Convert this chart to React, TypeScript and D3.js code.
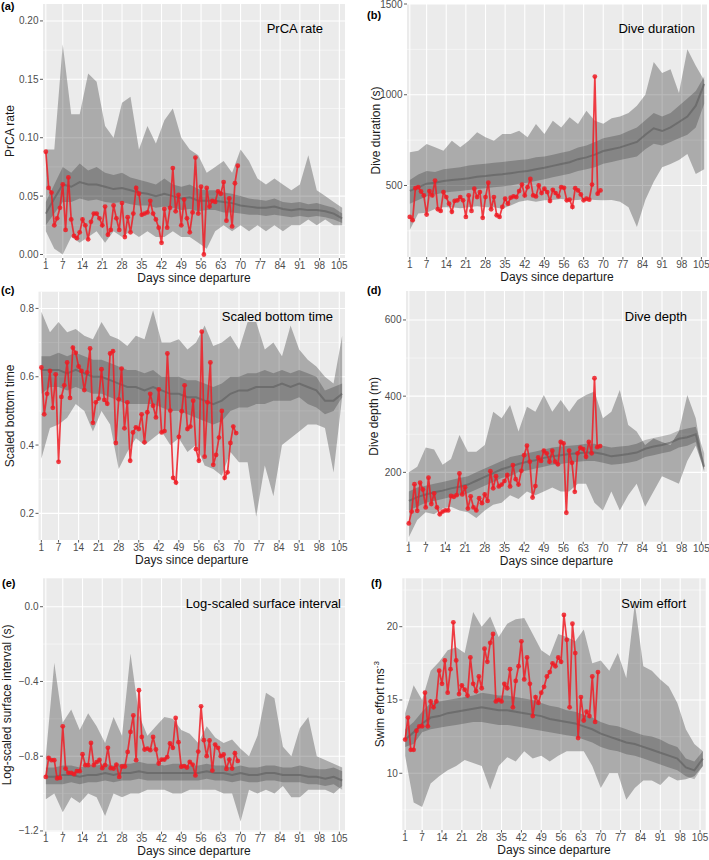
import React from 'react';
import * as d3 from 'd3';

// x axis shared by all panels
const xTicks = [1, 7, 14, 21, 28, 35, 42, 49, 56, 63, 70, 77, 84, 91, 98, 105];
const redDays = d3.range(1, 70);
// band values are read every 3 days
const bandDays = [1, 4, 7, 10, 13, 16, 19, 22, 25, 28, 31, 34, 37, 40, 43, 46, 49, 52, 55, 58, 61, 64, 67, 70, 73, 76, 79, 82, 85, 88, 91, 94, 97, 100, 103, 106];

// (a) PrCA rate
const redA = [0.088, 0.057, 0.053, 0.025, 0.031, 0.040, 0.060, 0.021, 0.066, 0.030, 0.016, 0.014, 0.019, 0.030, 0.025, 0.013, 0.028, 0.035, 0.035, 0.031, 0.025, 0.041, 0.017, 0.021, 0.042, 0.031, 0.021, 0.044, 0.015, 0.032, 0.019, 0.035, 0.057, 0.052, 0.034, 0.035, 0.036, 0.046, 0.035, 0.030, 0.023, 0.010, 0.039, 0.023, 0.040, 0.074, 0.037, 0.051, 0.025, 0.047, 0.031, 0.019, 0.036, 0.083, 0.035, 0.058, 0.000, 0.057, 0.041, 0.046, 0.045, 0.054, 0.052, 0.062, 0.029, 0.048, 0.024, 0.061, 0.076];
const outerHiA = [0.09, 0.09, 0.18, 0.12, 0.12, 0.155, 0.148, 0.11, 0.10, 0.13, 0.135, 0.09, 0.11, 0.095, 0.115, 0.125, 0.10, 0.09, 0.085, 0.07, 0.075, 0.08, 0.07, 0.09, 0.08, 0.065, 0.06, 0.065, 0.06, 0.055, 0.06, 0.085, 0.055, 0.05, 0.045, 0.04];
const outerLoA = [0.02, 0.005, 0.0, 0.015, 0.01, 0.015, 0.02, 0.01, 0.02, 0.015, 0.02, 0.015, 0.02, 0.015, 0.015, 0.02, 0.015, 0.015, 0.01, 0.005, 0.02, 0.025, 0.02, 0.025, 0.02, 0.025, 0.02, 0.025, 0.02, 0.025, 0.025, 0.03, 0.025, 0.03, 0.025, 0.025];
const innerHiA = [0.045, 0.06, 0.075, 0.07, 0.078, 0.072, 0.075, 0.07, 0.068, 0.07, 0.066, 0.064, 0.062, 0.06, 0.065, 0.06, 0.058, 0.06, 0.056, 0.055, 0.055, 0.053, 0.052, 0.05, 0.048, 0.047, 0.046, 0.048, 0.045, 0.044, 0.045, 0.043, 0.044, 0.042, 0.04, 0.035];
const innerLoA = [0.025, 0.035, 0.045, 0.045, 0.048, 0.046, 0.047, 0.045, 0.044, 0.045, 0.043, 0.042, 0.042, 0.04, 0.041, 0.04, 0.038, 0.039, 0.037, 0.038, 0.038, 0.036, 0.036, 0.035, 0.034, 0.034, 0.033, 0.034, 0.033, 0.032, 0.033, 0.032, 0.033, 0.032, 0.03, 0.027];
const medA = [0.035, 0.048, 0.06, 0.058, 0.062, 0.06, 0.06, 0.058, 0.056, 0.057, 0.055, 0.053, 0.052, 0.05, 0.052, 0.05, 0.048, 0.049, 0.046, 0.046, 0.046, 0.045, 0.044, 0.042, 0.041, 0.04, 0.04, 0.041, 0.039, 0.038, 0.039, 0.038, 0.038, 0.037, 0.035, 0.031];
const yTicksA = [0, 0.05, 0.1, 0.15, 0.2];

// (b) Dive duration
const redB = [327, 309, 485, 491, 467, 445, 340, 469, 445, 527, 369, 360, 464, 436, 400, 355, 415, 418, 436, 418, 327, 445, 360, 482, 436, 464, 322, 436, 515, 369, 436, 336, 327, 382, 427, 400, 433, 440, 436, 469, 505, 445, 491, 536, 445, 440, 500, 458, 482, 464, 415, 476, 458, 440, 491, 487, 418, 422, 382, 485, 473, 451, 418, 427, 422, 505, 1100, 455, 473];
const outerHiB = [683, 692, 729, 711, 692, 747, 711, 747, 793, 766, 747, 784, 784, 802, 766, 839, 784, 857, 820, 876, 839, 912, 857, 840, 870, 880, 900, 940, 1000, 1180, 1120, 1140, 1010, 1250, 1160, 1080];
const outerLoB = [255, 345, 350, 370, 380, 380, 375, 380, 385, 380, 380, 372, 390, 410, 418, 410, 418, 420, 425, 418, 420, 425, 420, 418, 420, 410, 380, 271, 420, 520, 600, 619, 640, 674, 564, 590];
const innerHiB = [530, 560, 580, 575, 590, 595, 600, 610, 615, 620, 625, 630, 635, 640, 645, 655, 660, 670, 680, 690, 710, 720, 740, 760, 770, 780, 800, 820, 860, 900, 880, 900, 940, 980, 1020, 1100];
const innerLoB = [400, 420, 440, 450, 460, 465, 470, 475, 480, 485, 490, 495, 500, 510, 515, 525, 535, 545, 555, 565, 580, 590, 600, 620, 630, 640, 650, 660, 700, 730, 720, 740, 760, 780, 820, 950];
const medB = [470, 490, 510, 515, 525, 530, 535, 540, 548, 552, 558, 562, 568, 575, 580, 590, 598, 608, 618, 628, 645, 655, 670, 690, 700, 710, 725, 740, 780, 815, 800, 820, 850, 880, 940, 1060];
const yTicksB = [500, 1000, 1500];

// (c) Scaled bottom time
const redC = [0.627, 0.49, 0.55, 0.617, 0.509, 0.607, 0.351, 0.541, 0.575, 0.642, 0.538, 0.685, 0.670, 0.630, 0.617, 0.561, 0.613, 0.683, 0.465, 0.525, 0.536, 0.622, 0.532, 0.521, 0.668, 0.675, 0.406, 0.534, 0.624, 0.449, 0.525, 0.354, 0.437, 0.452, 0.447, 0.49, 0.408, 0.496, 0.55, 0.515, 0.481, 0.563, 0.437, 0.441, 0.668, 0.501, 0.304, 0.29, 0.424, 0.499, 0.575, 0.447, 0.454, 0.530, 0.388, 0.354, 0.732, 0.366, 0.525, 0.642, 0.342, 0.371, 0.422, 0.5, 0.304, 0.32, 0.406, 0.454, 0.435];
const outerHiC = [0.79, 0.73, 0.76, 0.73, 0.74, 0.72, 0.71, 0.76, 0.72, 0.71, 0.69, 0.72, 0.71, 0.795, 0.70, 0.70, 0.71, 0.68, 0.70, 0.75, 0.69, 0.70, 0.72, 0.68, 0.76, 0.76, 0.68, 0.70, 0.66, 0.75, 0.68, 0.65, 0.63, 0.60, 0.58, 0.72];
const outerLoC = [0.36, 0.45, 0.46, 0.48, 0.52, 0.50, 0.44, 0.50, 0.46, 0.33, 0.38, 0.42, 0.40, 0.42, 0.44, 0.40, 0.42, 0.38, 0.40, 0.34, 0.33, 0.31, 0.38, 0.35, 0.35, 0.19, 0.34, 0.25, 0.40, 0.42, 0.44, 0.46, 0.46, 0.45, 0.32, 0.54];
const innerHiC = [0.66, 0.66, 0.67, 0.66, 0.67, 0.66, 0.65, 0.65, 0.64, 0.63, 0.62, 0.62, 0.61, 0.62, 0.60, 0.60, 0.60, 0.59, 0.59, 0.58, 0.57, 0.58, 0.60, 0.60, 0.61, 0.61, 0.62, 0.61, 0.62, 0.61, 0.62, 0.61, 0.60, 0.56, 0.57, 0.58];
const innerLoC = [0.55, 0.57, 0.57, 0.56, 0.57, 0.56, 0.55, 0.55, 0.54, 0.53, 0.52, 0.52, 0.52, 0.52, 0.51, 0.50, 0.50, 0.49, 0.48, 0.47, 0.46, 0.47, 0.50, 0.51, 0.51, 0.52, 0.52, 0.53, 0.53, 0.53, 0.54, 0.52, 0.51, 0.49, 0.50, 0.54];
const medC = [0.62, 0.62, 0.62, 0.61, 0.62, 0.61, 0.60, 0.60, 0.59, 0.58, 0.57, 0.57, 0.56, 0.57, 0.56, 0.55, 0.55, 0.54, 0.54, 0.53, 0.52, 0.53, 0.55, 0.56, 0.56, 0.57, 0.57, 0.57, 0.58, 0.57, 0.58, 0.57, 0.56, 0.53, 0.53, 0.55];
const yTicksC = [0.2, 0.4, 0.6, 0.8];

// (d) Dive depth
const redD = [66, 97, 169, 99, 173, 155, 108, 186, 117, 145, 108, 90, 97, 100, 100, 138, 136, 140, 197, 142, 161, 105, 137, 108, 100, 132, 119, 142, 125, 203, 158, 190, 163, 168, 177, 193, 163, 219, 182, 168, 204, 245, 270, 228, 134, 164, 239, 230, 257, 250, 228, 257, 228, 221, 280, 276, 94, 257, 225, 149, 250, 265, 261, 241, 280, 250, 447, 266, 269];
const outerHiD = [200, 215, 265, 260, 220, 235, 298, 254, 254, 272, 359, 342, 377, 307, 372, 359, 403, 359, 390, 359, 390, 403, 412, 342, 359, 416, 324, 307, 272, 289, 280, 272, 307, 403, 342, 210];
const outerLoD = [30, 75, 95, 90, 105, 110, 100, 95, 80, 100, 115, 120, 140, 130, 150, 140, 150, 160, 150, 150, 170, 170, 120, 100, 150, 100, 140, 170, 110, 150, 190, 180, 170, 230, 270, 205];
const innerHiD = [150, 160, 165, 170, 175, 180, 185, 190, 200, 210, 220, 230, 240, 245, 250, 255, 260, 265, 268, 270, 272, 275, 275, 270, 265, 268, 270, 275, 285, 290, 295, 300, 310, 315, 320, 250];
const innerLoD = [100, 110, 120, 125, 130, 135, 140, 145, 155, 165, 175, 185, 190, 200, 205, 210, 215, 220, 222, 225, 228, 230, 230, 225, 220, 222, 225, 230, 240, 245, 250, 255, 265, 270, 280, 200];
const medD = [125, 135, 142, 148, 152, 158, 162, 168, 178, 188, 198, 208, 215, 222, 228, 232, 238, 242, 245, 248, 250, 252, 252, 248, 242, 245, 248, 252, 262, 268, 272, 278, 288, 292, 300, 215];
const yTicksD = [200, 400, 600];

// (e) Log-scaled surface interval
const redE = [-0.911, -0.809, -0.821, -0.821, -0.919, -0.916, -0.64, -0.866, -0.889, -0.889, -0.896, -0.88, -0.88, -0.789, -0.848, -0.848, -0.729, -0.848, -0.832, -0.82, -0.864, -0.848, -0.755, -0.864, -0.866, -0.845, -0.911, -0.855, -0.855, -0.777, -0.67, -0.582, -0.821, -0.447, -0.697, -0.764, -0.759, -0.768, -0.697, -0.764, -0.839, -0.818, -0.818, -0.805, -0.732, -0.755, -0.595, -0.725, -0.857, -0.853, -0.861, -0.83, -0.845, -0.903, -0.775, -0.533, -0.714, -0.8, -0.716, -0.877, -0.738, -0.755, -0.8, -0.791, -0.868, -0.818, -0.866, -0.784, -0.825];
const outerHiE = [-0.80, -0.30, -0.62, -0.55, -0.66, -0.57, -0.64, -0.73, -0.59, -0.69, -0.25, -0.58, -0.69, -0.64, -0.59, -0.60, -0.66, -0.68, -0.73, -0.64, -0.70, -0.73, -0.71, -0.76, -0.80, -0.69, -0.46, -0.49, -0.75, -0.80, -0.65, -0.59, -0.80, -0.82, -0.84, -0.86];
const outerLoE = [-1.03, -1.0, -1.1, -1.02, -1.05, -1.0, -1.02, -1.12, -1.0, -1.02, -1.0, -1.0, -0.98, -0.98, -0.98, -1.0, -1.0, -0.98, -0.98, -0.98, -0.98, -1.0, -1.0, -1.15, -0.98, -1.0, -0.98, -1.0, -0.96, -1.02, -1.02, -0.98, -0.98, -0.98, -1.0, -0.96];
const innerHiE = [-0.86, -0.86, -0.85, -0.85, -0.86, -0.85, -0.85, -0.84, -0.85, -0.84, -0.84, -0.83, -0.84, -0.84, -0.85, -0.84, -0.84, -0.85, -0.85, -0.84, -0.85, -0.85, -0.86, -0.85, -0.86, -0.86, -0.85, -0.85, -0.86, -0.86, -0.85, -0.86, -0.87, -0.87, -0.86, -0.88];
const innerLoE = [-0.95, -0.95, -0.95, -0.94, -0.95, -0.94, -0.94, -0.93, -0.94, -0.93, -0.93, -0.92, -0.93, -0.93, -0.93, -0.93, -0.93, -0.93, -0.93, -0.92, -0.93, -0.93, -0.94, -0.93, -0.94, -0.94, -0.93, -0.93, -0.94, -0.94, -0.94, -0.95, -0.95, -0.96, -0.95, -0.98];
const medE = [-0.91, -0.91, -0.90, -0.90, -0.91, -0.90, -0.90, -0.89, -0.90, -0.89, -0.89, -0.88, -0.89, -0.89, -0.89, -0.89, -0.89, -0.89, -0.89, -0.88, -0.89, -0.89, -0.90, -0.89, -0.90, -0.90, -0.89, -0.89, -0.90, -0.90, -0.90, -0.91, -0.91, -0.92, -0.91, -0.93];
const yTicksE = [-1.2, -0.8, -0.4, 0.0];

// (f) Swim effort
const redF = [12.3, 13.8, 11.6, 11.6, 12.9, 13.2, 13.2, 15.5, 13.2, 14.9, 14.5, 14.9, 17.0, 16.1, 17.7, 15.5, 17.1, 20.3, 17.7, 15.4, 16.0, 15.7, 15.3, 17.9, 16.1, 15.6, 16.6, 15.8, 18.5, 17.6, 18.9, 19.5, 14.9, 15.0, 14.9, 16.1, 15.8, 17.1, 14.5, 16.3, 17.3, 19.0, 16.4, 17.9, 16.1, 13.9, 15.2, 14.8, 15.5, 15.9, 16.6, 16.9, 17.5, 17.3, 17.9, 17.6, 20.8, 19.1, 14.5, 20.2, 18.2, 12.4, 15.2, 13.6, 14.2, 13.9, 16.6, 13.5, 16.9];
const outerHiF = [14.1, 16.0, 15.0, 17.0, 17.6, 18.4, 18.6, 18.2, 21.0, 20.0, 20.7, 19.3, 20.2, 20.5, 20.6, 19.5, 18.4, 18.0, 19.5, 19.3, 19.0, 19.8, 17.5, 17.7, 17.0, 18.2, 16.5, 21.6, 17.3, 17.0, 16.4, 15.9, 14.8, 13.0, 12.0, 11.5];
const outerLoF = [11.2, 8.0, 7.7, 9.3, 9.8, 10.2, 10.5, 10.9, 10.7, 10.5, 8.9, 10.5, 11.1, 10.8, 11.5, 11.0, 11.2, 10.8, 11.2, 11.5, 11.5, 11.5, 10.5, 9.0, 10.0, 10.0, 8.2, 9.0, 9.5, 9.5, 9.2, 9.8, 9.5, 9.6, 9.8, 10.5];
const innerHiF = [13.0, 13.5, 14.2, 14.8, 14.9, 15.0, 15.1, 15.2, 15.3, 15.5, 15.4, 15.3, 15.3, 15.2, 15.1, 15.0, 14.8, 14.6, 14.5, 14.3, 14.2, 14.0, 13.8, 13.5, 13.3, 13.2, 13.0, 12.8, 12.6, 12.5, 12.3, 12.0, 11.8, 11.0, 10.8, 11.5];
const innerLoF = [11.8, 12.0, 12.8, 13.0, 13.1, 13.2, 13.3, 13.4, 13.5, 13.5, 13.4, 13.3, 13.3, 13.2, 13.1, 13.0, 12.9, 12.8, 12.7, 12.6, 12.5, 12.3, 12.1, 11.8, 11.6, 11.5, 11.3, 11.2, 11.0, 10.8, 10.6, 10.4, 10.2, 9.8, 9.6, 10.5];
const medF = [12.3, 12.8, 13.4, 13.8, 13.9, 14.1, 14.2, 14.3, 14.4, 14.5, 14.4, 14.3, 14.3, 14.2, 14.1, 14.0, 13.9, 13.7, 13.6, 13.5, 13.4, 13.2, 13.0, 12.7, 12.5, 12.3, 12.1, 12.0, 11.8, 11.6, 11.4, 11.2, 11.0, 10.4, 10.2, 11.0];
const yTicksF = [10, 15, 20];

interface PanelCfg {
  id: string;
  letter: string;
  title: string;
  yTitle: string;
  ySup?: string;
  red: number[];
  outerHi: number[];
  outerLo: number[];
  innerHi: number[];
  innerLo: number[];
  med: number[];
  yTicks: number[];
  fmt: string;
  yDomain: [number, number];
  left: number;
  right: number;
  top: number;
  bottom: number;
  letterX: number;
  letterY: number;
  titleX: number;
  titleY: number;
  yTitleX: number;
}

const panels: PanelCfg[] = [
  { id: 'a', letter: '(a)', title: 'PrCA rate', yTitle: 'PrCA rate', red: redA, outerHi: outerHiA, outerLo: outerLoA, innerHi: innerHiA, innerLo: innerLoA, med: medA, yTicks: yTicksA, fmt: '.2f', yDomain: [-0.003, 0.2145], left: 43, right: 345, top: 4, bottom: 258, letterX: 1, letterY: 10, titleX: 323, titleY: 33, yTitleX: 14 },
  { id: 'b', letter: '(b)', title: 'Dive duration', yTitle: 'Dive duration (s)', red: redB, outerHi: outerHiB, outerLo: outerLoB, innerHi: innerHiB, innerLo: innerLoB, med: medB, yTicks: yTicksB, fmt: 'd', yDomain: [106, 1500], left: 407, right: 707, top: 4, bottom: 257, letterX: 367, letterY: 19, titleX: 695, titleY: 33, yTitleX: 380 },
  { id: 'c', letter: '(c)', title: 'Scaled bottom time', yTitle: 'Scaled bottom time', red: redC, outerHi: outerHiC, outerLo: outerLoC, innerHi: innerHiC, innerLo: innerLoC, med: medC, yTicks: yTicksC, fmt: '.1f', yDomain: [0.122, 0.849], left: 38.5, right: 345, top: 291.7, bottom: 540, letterX: 1, letterY: 294, titleX: 333, titleY: 321, yTitleX: 14 },
  { id: 'd', letter: '(d)', title: 'Dive depth', yTitle: 'Dive depth (m)', red: redD, outerHi: outerHiD, outerLo: outerLoD, innerHi: innerHiD, innerLo: innerLoD, med: medD, yTicks: yTicksD, fmt: 'd', yDomain: [18, 676], left: 406, right: 707, top: 291, bottom: 541.7, letterX: 367, letterY: 294, titleX: 687, titleY: 321, yTitleX: 378 },
  { id: 'e', letter: '(e)', title: 'Log-scaled surface interval', yTitle: 'Log-scaled surface interval (s)', red: redE, outerHi: outerHiE, outerLo: outerLoE, innerHi: innerHiE, innerLo: innerLoE, med: medE, yTicks: yTicksE, fmt: '.1f', yDomain: [-1.204, 0.152], left: 43, right: 345, top: 578.3, bottom: 831.7, letterX: 2, letterY: 587, titleX: 341, titleY: 608, yTitleX: 11 },
  { id: 'f', letter: '(f)', title: 'Swim effort', yTitle: 'Swim effort ms', ySup: '-3', red: redF, outerHi: outerHiF, outerLo: outerLoF, innerHi: innerHiF, innerLo: innerLoF, med: medF, yTicks: yTicksF, fmt: 'd', yDomain: [6.13, 23.3], left: 402.3, right: 705.7, top: 578.3, bottom: 830, letterX: 371, letterY: 587, titleX: 686, titleY: 608, yTitleX: 384 },
];

const xDomain: [number, number] = [0, 107];
const FONT = '"Liberation Sans", Arial, Helvetica, sans-serif';
const RED = '#ee1c25';

function Panel({ p }: { p: PanelCfg }) {
  const x = d3.scaleLinear().domain(xDomain).range([p.left, p.right]);
  const y = d3.scaleLinear().domain(p.yDomain).range([p.bottom, p.top]);
  const fmt = d3.format(p.fmt);

  // minor grid between major breaks (ggplot style)
  const step = p.yTicks[1] - p.yTicks[0];
  const minors = d3.range(p.yTicks[0] - step / 2, p.yTicks[p.yTicks.length - 1] + step, step)
    .filter(v => v > p.yDomain[0] && v < p.yDomain[1]);

  const band = (hi: number[], lo: number[]) =>
    d3.area<number>()
      .x((_, i) => x(bandDays[i]))
      .y0((_, i) => y(lo[i]))
      .y1(d => y(d))(hi) || '';

  const medLine = d3.line<number>().x((_, i) => x(bandDays[i])).y(d => y(d))(p.med) || '';
  const redLine = d3.line<number>().x((_, i) => x(redDays[i])).y(d => y(d))(p.red) || '';
  const midX = (p.left + p.right) / 2;
  const midY = (p.top + p.bottom) / 2;

  return (
    <g>
      <defs>
        <clipPath id={`clip-${p.id}`}>
          <rect x={p.left} y={p.top} width={p.right - p.left} height={p.bottom - p.top} />
        </clipPath>
      </defs>
      <rect x={p.left} y={p.top} width={p.right - p.left} height={p.bottom - p.top} fill="#ebebeb" />
      {minors.map(v => (
        <line key={`mn${v}`} x1={p.left} x2={p.right} y1={y(v)} y2={y(v)} stroke="#fff" strokeWidth={0.5} />
      ))}
      {p.yTicks.map(v => (
        <line key={`gy${v}`} x1={p.left} x2={p.right} y1={y(v)} y2={y(v)} stroke="#fff" strokeWidth={1.1} />
      ))}
      {xTicks.map(v => (
        <line key={`gx${v}`} x1={x(v)} x2={x(v)} y1={p.top} y2={p.bottom} stroke="#fff" strokeWidth={1.1} />
      ))}
      <g clipPath={`url(#clip-${p.id})`}>
        <path d={band(p.outerHi, p.outerLo)} fill="#000" fillOpacity={0.27} />
        <path d={band(p.innerHi, p.innerLo)} fill="#000" fillOpacity={0.22} />
        <path d={medLine} fill="none" stroke="#5a5a5a" strokeOpacity={0.55} strokeWidth={2} />
        <path d={redLine} fill="none" stroke={RED} strokeOpacity={0.85} strokeWidth={1.7} />
        {p.red.map((v, i) => (
          <circle key={`pt${i}`} cx={x(redDays[i])} cy={y(v)} r={2.4} fill={RED} fillOpacity={0.85} />
        ))}
      </g>
      {/* axes */}
      {p.yTicks.map(v => (
        <g key={`ty${v}`}>
          <line x1={p.left - 3} x2={p.left} y1={y(v)} y2={y(v)} stroke="#333" strokeWidth={0.8} />
          <text x={p.left - 4.5} y={y(v)} dy="0.35em" textAnchor="end" fontSize={10} fill="#4d4d4d">{fmt(v)}</text>
        </g>
      ))}
      {xTicks.map(v => (
        <g key={`tx${v}`}>
          <line x1={x(v)} x2={x(v)} y1={p.bottom} y2={p.bottom + 2.5} stroke="#333" strokeWidth={0.8} />
          <text x={x(v)} y={p.bottom + 10.5} textAnchor="middle" fontSize={10} fill="#4d4d4d">{v}</text>
        </g>
      ))}
      <text x={midX} y={p.bottom + 23.5} textAnchor="middle" fontSize={12} fill="#1a1a1a">Days since departure</text>
      <text transform={`translate(${p.yTitleX},${midY}) rotate(-90)`} textAnchor="middle" fontSize={12} fill="#1a1a1a">
        {p.yTitle}
        {p.ySup ? <tspan fontSize={8} dy={-5}>{p.ySup}</tspan> : null}
      </text>
      <text x={p.titleX} y={p.titleY} textAnchor="end" fontSize={13} fill="#000">{p.title}</text>
      <text x={p.letterX} y={p.letterY} fontSize={11} fontWeight="bold" fill="#000">{p.letter}</text>
    </g>
  );
}

export default function App() {
  return (
    <svg width={709} height={860} style={{ position: 'absolute', left: 0, top: 0, background: '#fff', fontFamily: FONT }}>
      {panels.map(p => <Panel key={p.id} p={p} />)}
    </svg>
  );
}
